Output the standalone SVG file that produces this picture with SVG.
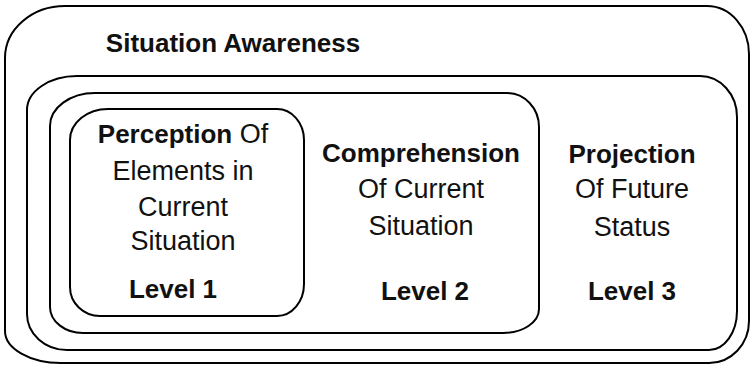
<svg xmlns="http://www.w3.org/2000/svg" width="752" height="367" viewBox="0 0 752 367">
<style>
.box{fill:none;stroke:#000;stroke-width:2}
text{font-family:"Liberation Sans",Arial,sans-serif;fill:#111;text-anchor:middle}
.b{font-weight:bold;font-size:26px}
.r{font-size:27px}
</style>
<rect width="752" height="367" fill="#fff"/>
<g id="situation-awareness">
<path class="box" d="M65,6 H707 A42 48 0 0 1 749,54 V321 A40 42 0 0 1 709,363 H61 A56 32 0 0 1 5,331 V58 A60 52 0 0 1 65,6 Z"/>
<text class="b" x="233" y="52">Situation Awareness</text>
</g>
<g id="level3">
<path class="box" d="M77,76 H700 A37 41 0 0 1 737,117 V311 A28 39 0 0 1 709,350 H67 A40 36 0 0 1 27,314 V110 A50 34 0 0 1 77,76 Z"/>
<text class="b" x="632" y="163">Projection</text>
<text class="r" x="632" y="198">Of Future</text>
<text class="r" x="632" y="236">Status</text>
<text class="b" x="632" y="300">Level 3</text>
</g>
<g id="level2">
<path class="box" d="M95,93 H507 A32 34 0 0 1 539,127 V309 A36 24 0 0 1 503,333 H83 A33 26 0 0 1 50,307 V126 A45 33 0 0 1 95,93 Z"/>
<text class="b" x="421" y="162">Comprehension</text>
<text class="r" x="421" y="198">Of Current</text>
<text class="r" x="421" y="235">Situation</text>
<text class="b" x="425" y="300">Level 2</text>
</g>
<g id="level1">
<path class="box" d="M108,109 H277 A27 31 0 0 1 304,140 V284 A27 32 0 0 1 277,316 H100 A30 29 0 0 1 70,287 V140 A38 31 0 0 1 108,109 Z"/>
<text x="183" y="143"><tspan class="b">Perception</tspan><tspan class="r" font-size="26"> Of</tspan></text>
<text class="r" x="183" y="180">Elements in</text>
<text class="r" x="183" y="216">Current</text>
<text class="r" x="183" y="250">Situation</text>
<text class="b" x="173" y="298">Level 1</text>
</g>
<g id="connectors"/>
</svg>
